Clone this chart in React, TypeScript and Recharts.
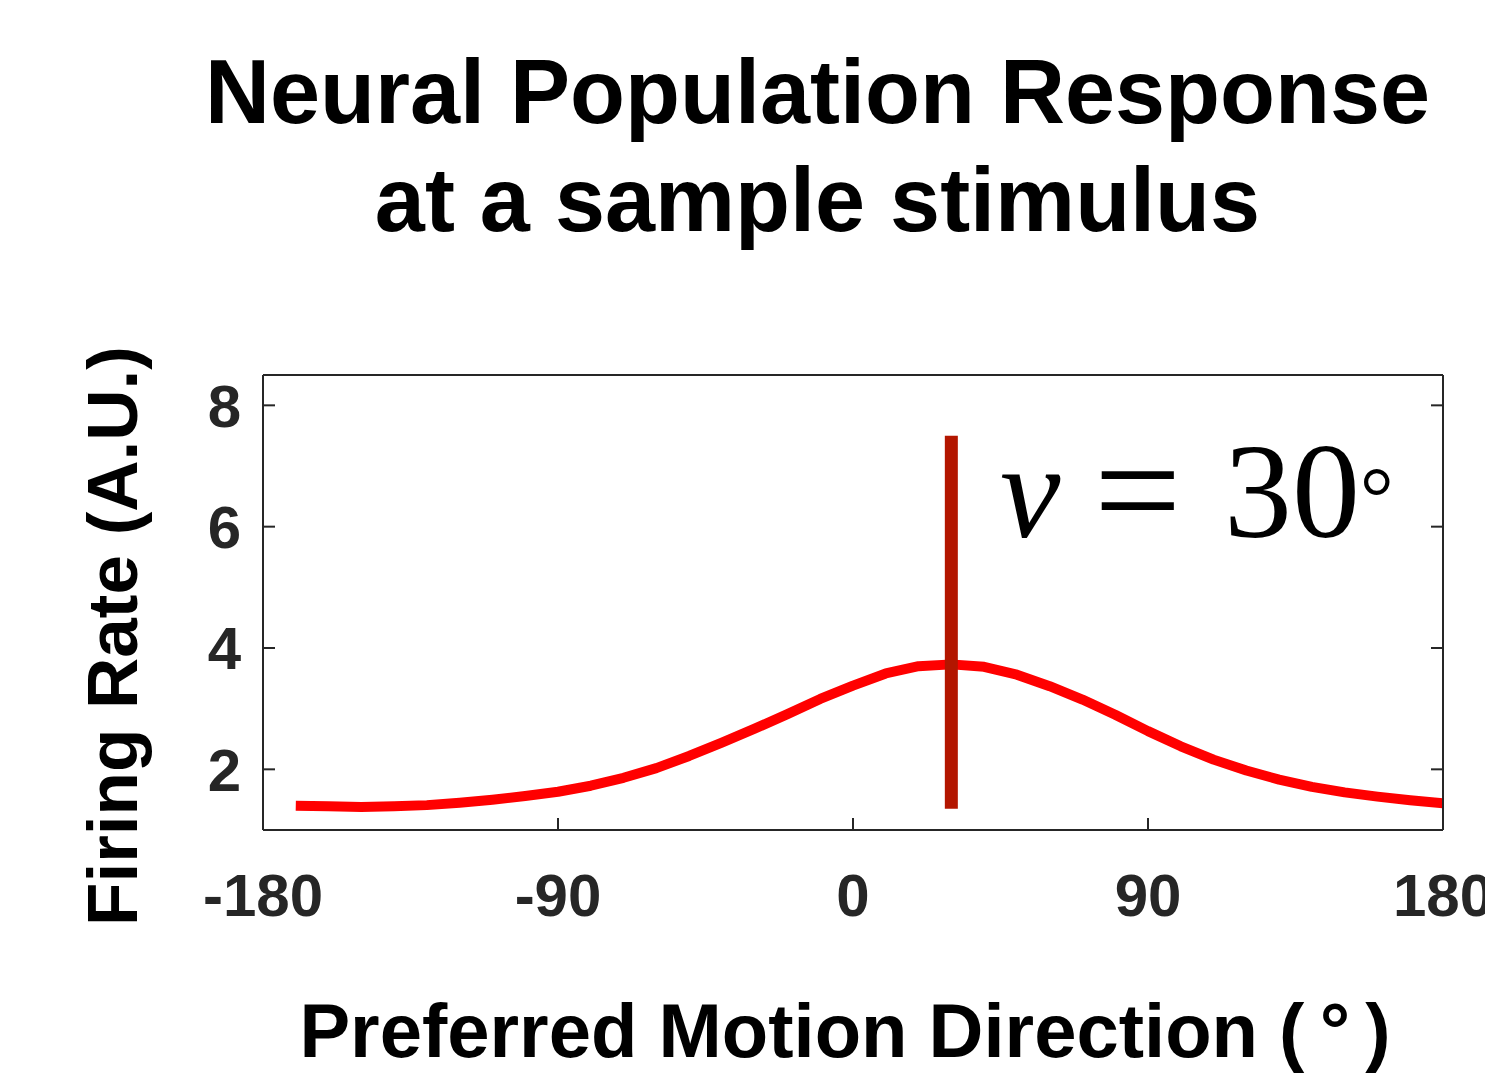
import { LineChart, Line, XAxis, YAxis } from 'recharts';

// preferred direction of each neuron (deg) and its firing rate
const directions = [
  -170, -160, -150, -140, -130, -120, -110, -100, -90, -80, -70, -60, -50, -40, -30, -20, -10, 0,
  10, 20, 30, 40, 50, 60, 70, 80, 90, 100, 110, 120, 130, 140, 150, 160, 170, 180,
];
const rates = [
  1.40, 1.39, 1.38, 1.39, 1.41, 1.45, 1.50, 1.56, 1.63, 1.73, 1.86, 2.02, 2.22, 2.44, 2.67, 2.91, 3.16, 3.38,
  3.58, 3.70, 3.73, 3.69, 3.56, 3.37, 3.15, 2.90, 2.63, 2.38, 2.16, 1.98, 1.83, 1.71, 1.62, 1.55, 1.49, 1.44,
];

// stimulus marker: direction and vertical extent
const stimulusDir = 30;
const stimulusSpan = [1.35, 7.5];

const xTicks = [-180, -90, 0, 90, 180];
const yTicks = [2, 4, 6, 8];

const curve = directions.map((d, i) => ({ deg: d, rate: rates[i] }));
const marker = stimulusSpan.map((r) => ({ deg: stimulusDir, rate: r }));

const W = 1485;
const H = 1074;
const sans = '"Liberation Sans", Arial, Helvetica, sans-serif';
const serif = '"Liberation Serif", "Times New Roman", serif';
const axisColor = '#262626';
const tickFont = { fill: axisColor, fontSize: 60, fontWeight: 'bold', fontFamily: sans };
const axisStroke = { stroke: axisColor, strokeWidth: 2 };
// box edges (top/right) keep their tick marks but carry no labels
const noLabel = () => <g />;

export default function App() {
  return (
    <div style={{ position: 'absolute', left: 0, top: 0, width: W, height: H, overflow: 'hidden', background: '#fff' }}>
      <LineChart width={W} height={H} margin={{ top: 365, right: 32, bottom: 184, left: 203 }}>
        <XAxis
          xAxisId={0}
          dataKey="deg"
          type="number"
          domain={[-180, 180]}
          ticks={xTicks}
          allowDataOverflow
          height={60}
          axisLine={axisStroke}
          tickLine={axisStroke}
          tickSize={-12}
          tickMargin={55}
          tick={tickFont}
          interval={0}
        />
        <XAxis
          xAxisId="top"
          orientation="top"
          type="number"
          domain={[-180, 180]}
          ticks={xTicks}
          allowDataOverflow
          height={10}
          axisLine={axisStroke}
          tickLine={axisStroke}
          tickSize={-12}
          tick={noLabel}
          interval={0}
        />
        <YAxis
          yAxisId={0}
          type="number"
          domain={[1, 8.5]}
          ticks={yTicks}
          allowDataOverflow
          width={60}
          axisLine={axisStroke}
          tickLine={axisStroke}
          tickSize={-12}
          tickMargin={34}
          tick={tickFont}
          interval={0}
        />
        <YAxis
          yAxisId="right"
          orientation="right"
          type="number"
          domain={[1, 8.5]}
          ticks={yTicks}
          allowDataOverflow
          width={10}
          axisLine={axisStroke}
          tickLine={axisStroke}
          tickSize={-12}
          tick={noLabel}
          interval={0}
        />
        <Line
          data={curve}
          dataKey="rate"
          type="linear"
          stroke="#ff0000"
          strokeWidth={10}
          strokeLinejoin="round"
          dot={false}
          activeDot={false}
          isAnimationActive={false}
        />
        <Line
          data={marker}
          dataKey="rate"
          type="linear"
          stroke="#b31600"
          strokeWidth={13}
          dot={false}
          activeDot={false}
          isAnimationActive={false}
        />
      </LineChart>

      <svg width={W} height={H} style={{ position: 'absolute', left: 0, top: 0, pointerEvents: 'none' }}>
        <g fontFamily={sans} fontWeight="bold" fill="#000" textAnchor="middle">
          <text x={817.5} y={123} fontSize={90}>Neural Population Response</text>
          <text x={817.5} y={231} fontSize={90}>at a sample stimulus</text>
          <text x={845} y={1057} fontSize={76}>Preferred Motion Direction (&#8201;°&#8201;)</text>
          <text transform="translate(137,636) rotate(-90)" fontSize={71}>Firing Rate (A.U.)</text>
        </g>
        <g fontFamily={serif} fill="#000">
          <text x={1000} y={537} fontSize={136} fontStyle="italic">v</text>
          <text x={1094} y={542} fontSize={155}>=</text>
          <text x={1224} y={537} fontSize={136}>30</text>
          <text x={1360} y={526} fontSize={84}>°</text>
        </g>
      </svg>
    </div>
  );
}
